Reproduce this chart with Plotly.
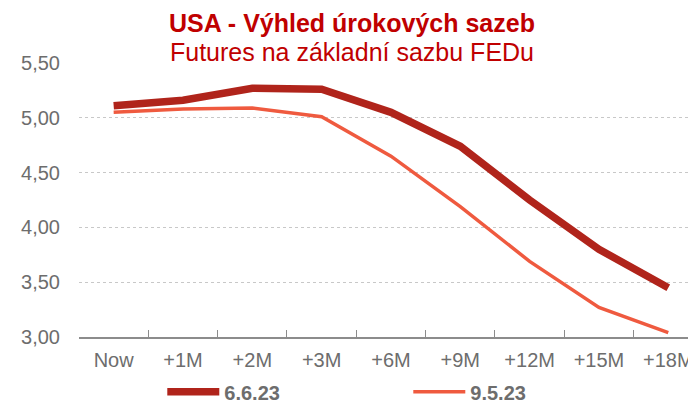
'''
    Rate outlook chart: fed funds futures curve, two dates compared.
'''

import plotly.graph_objects as go

# data
horizons = ['Now', '+1M', '+2M', '+3M', '+6M', '+9M', '+12M', '+15M', '+18M']
rates_jun = [5.11, 5.16, 5.27, 5.26, 5.05, 4.74, 4.25, 3.80, 3.45]
rates_may = [5.05, 5.08, 5.09, 5.01, 4.65, 4.19, 3.69, 3.27, 3.04]
series_names = ['6.6.23', '9.5.23']
y_ticks = [3.0, 3.5, 4.0, 4.5, 5.0, 5.5]
y_labels = ['3,00', '3,50', '4,00', '4,50', '5,00', '5,50']
title = 'USA - Výhled úrokových sazeb'
subtitle = 'Futures na základní sazbu FEDu'

FONT = 'Liberation Sans, Arial'
GREY = '#6d6d6d'
RED = '#c00000'


def add_lines(fig):
    '''
        Adds the two futures curves.
    '''
    fig.add_trace(go.Scatter(x=horizons, y=rates_jun, name=series_names[0],
                             mode='lines',
                             line=dict(color='#b0241b', width=7.5)))
    fig.add_trace(go.Scatter(x=horizons, y=rates_may, name=series_names[1],
                             mode='lines',
                             line=dict(color='#ef5a3f', width=3.5)))
    return fig


def set_layout(fig):
    '''
        Axes, title box and legend.
        The page body keeps its 8px margin, so the figure is 8px smaller.
    '''
    fig.update_layout(
        width=688, height=396,
        margin=dict(l=71, r=0, t=55, b=67, autoexpand=False),
        paper_bgcolor='white', plot_bgcolor='white',
        font=dict(family=FONT, color=GREY, size=20),
        showlegend=True,
        legend=dict(orientation='h', x=0.135, xanchor='left',
                    y=-0.2, yanchor='middle',
                    entrywidth=179, itemwidth=52,
                    bgcolor='rgba(0,0,0,0)',
                    font=dict(size=20, color=GREY, family=FONT,
                              weight='bold')),
    )
    fig.update_xaxes(type='category', range=[-0.5, 8.4], automargin=False,
                     showgrid=False, showline=True, linecolor='#8c8c8c',
                     linewidth=1.5, ticks='inside', ticklen=7,
                     tickcolor='#8c8c8c', tickson='boundaries',
                     tickfont=dict(size=20, color=GREY), ticklabelstandoff=4)
    fig.update_yaxes(range=[3.0, 5.5], tickvals=y_ticks, ticktext=y_labels,
                     automargin=False,
                     showgrid=True, gridcolor='#c8c8c8', griddash='dot',
                     gridwidth=1, zeroline=False, showline=False,
                     tickfont=dict(size=20, color=GREY), ticklabelstandoff=18)
    # one white box for both title lines, it breaks the top gridline
    fig.add_annotation(
        xref='paper', yref='paper', x=0.443, y=0.985, xanchor='center',
        yanchor='bottom', showarrow=False, bgcolor='white',
        width=408, borderpad=0,
        text=('<b><span style="font-size:25px">' + title + '</span></b><br>'
              '<span style="font-size:25px">' + subtitle + '</span>'),
        font=dict(family=FONT, size=22, color=RED),
    )
    return fig


fig = go.Figure()
fig = add_lines(fig)
fig = set_layout(fig)
fig.write_html('out.html')
